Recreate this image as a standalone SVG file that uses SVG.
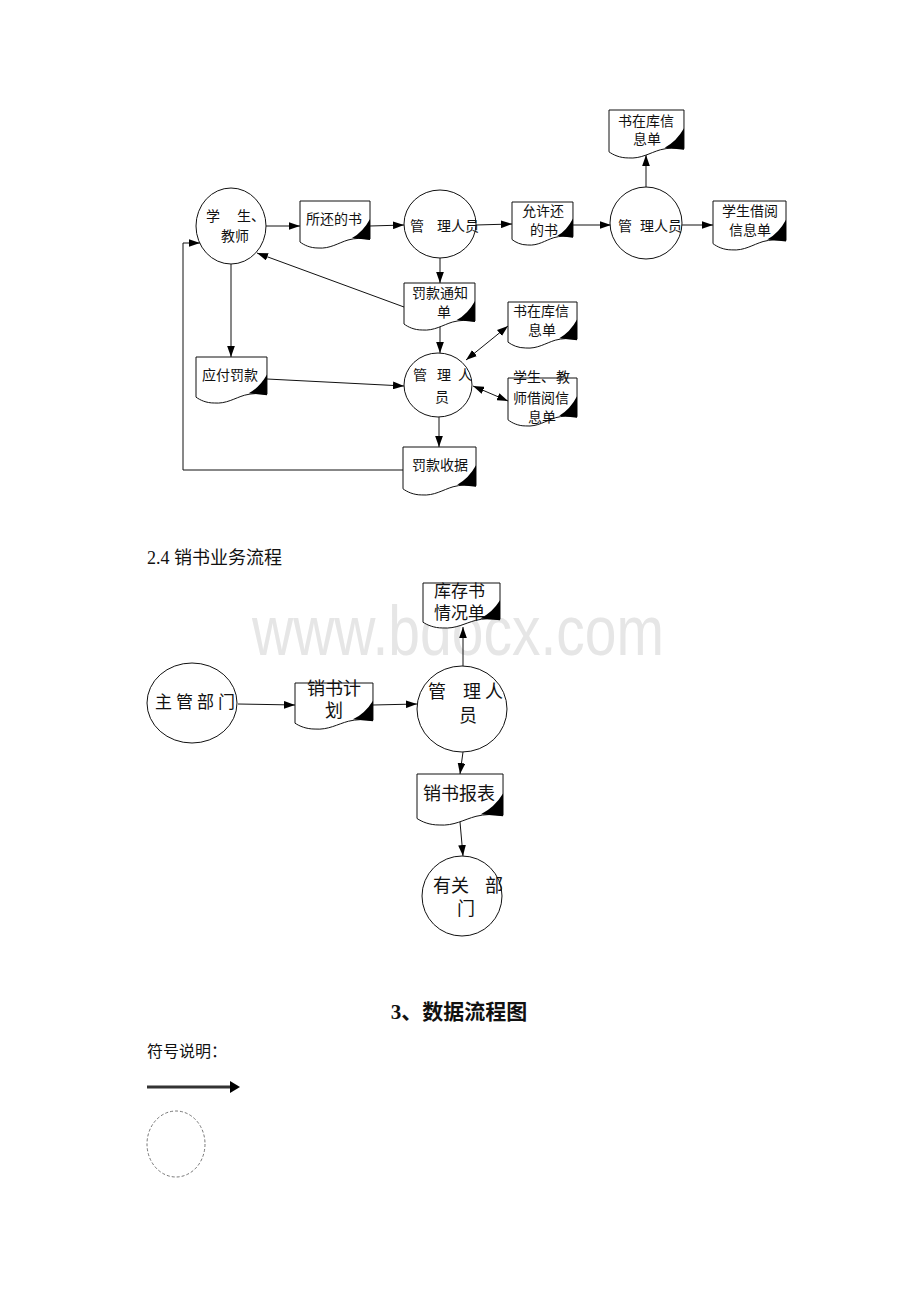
<svg xmlns="http://www.w3.org/2000/svg" xmlns:xlink="http://www.w3.org/1999/xlink" width="920" height="1302" viewBox="0 0 920 1302">
<style>
.t{font-family:"Liberation Serif","Noto Sans CJK SC",serif;font-size:14px;fill:#111}
.m{font-family:"Liberation Serif","Noto Sans CJK SC",serif;font-size:18px;fill:#111}
.nd{fill:#fff;stroke:#111;stroke-width:1}
.ln{fill:none;stroke:#111;stroke-width:1}
.wm{font-family:"Liberation Sans",sans-serif;font-size:70px;fill:#e6e6e6}
</style>
<defs>
<marker id="ah" viewBox="0 0 10 7" refX="10" refY="3.5" markerWidth="11" markerHeight="8" markerUnits="userSpaceOnUse" orient="auto-start-reverse">
<path d="M0,0 L10,3.5 L0,7 Z" fill="#000"/>
</marker>
<g id="doc">
<path d="M0,0 H70 V38 C62,37 55,37 48,39 C38,42 30,48 18,47 C10,47 4,44 0,41 Z" fill="#fff" stroke="#111" stroke-width="1" vector-effect="non-scaling-stroke"/>
<path d="M70,18 V39 L52,37 Q63,31 70,18 Z" fill="#000"/>
</g>
</defs>
<rect width="920" height="1302" fill="#fff"/>
<text class="wm" x="252" y="655" textLength="412" lengthAdjust="spacingAndGlyphs">www.bdocx.com</text>

<g id="connectors">
<path class="ln" d="M266,226 L300,226" marker-end="url(#ah)"/>
<path class="ln" d="M370,226 L404,225" marker-end="url(#ah)"/>
<path class="ln" d="M476,225 L512,224" marker-end="url(#ah)"/>
<path class="ln" d="M573,225 L611,225" marker-end="url(#ah)"/>
<path class="ln" d="M682,225 L713,225" marker-end="url(#ah)"/>
<path class="ln" d="M646,206 L646,155" marker-end="url(#ah)"/>
<path class="ln" d="M440,258 L440,283" marker-end="url(#ah)"/>
<path class="ln" d="M404,307 L257,253" marker-end="url(#ah)"/>
<path class="ln" d="M231,264 L231,357" marker-end="url(#ah)"/>
<path class="ln" d="M440,325 L440,353" marker-end="url(#ah)"/>
<path class="ln" d="M267,379 L404,386" marker-end="url(#ah)"/>
<path class="ln" d="M466,360 L508,326" marker-start="url(#ah)" marker-end="url(#ah)"/>
<path class="ln" d="M473,386 L508,401" marker-start="url(#ah)" marker-end="url(#ah)"/>
<path class="ln" d="M439,417 L439,447" marker-end="url(#ah)"/>
<path class="ln" d="M403,470 H183 V243 H200" stroke="#333" marker-end="url(#ah)"/>
<path class="ln" d="M238,704 L295,705" marker-end="url(#ah)"/>
<path class="ln" d="M373,705 L417,704" marker-end="url(#ah)"/>
<path class="ln" d="M463,666 L463,627" marker-end="url(#ah)"/>
<path class="ln" d="M463,752 L460,774" marker-end="url(#ah)"/>
<path class="ln" d="M460,822 L463,856" marker-end="url(#ah)"/>
</g>

<g id="n-student">
<ellipse class="nd" cx="231" cy="226" rx="35" ry="38"/>
<text class="t" x="206" y="221">学</text>
<text class="t" x="237" y="221">生、</text>
<text class="t" x="221" y="241">教师</text>
</g>
<g id="n-returned-book">
<use href="#doc" transform="translate(300,201) scale(1,1)"/>
<text class="t" x="306" y="224">所还的书</text>
</g>
<g id="n-admin1">
<ellipse class="nd" cx="440" cy="224" rx="36" ry="34"/>
<text class="t" x="410" y="231">管</text>
<text class="t" x="437" y="231">理人员</text>
</g>
<g id="n-allowed">
<use href="#doc" transform="translate(512,202) scale(0.871,0.915)"/>
<text class="t" x="522" y="216">允许还</text>
<text class="t" x="530" y="235">的书</text>
</g>
<g id="n-admin2">
<ellipse class="nd" cx="646" cy="223" rx="36" ry="36"/>
<text class="t" x="618" y="231">管</text>
<text class="t" x="640" y="231">理人员</text>
</g>
<g id="n-stock-top">
<use href="#doc" transform="translate(609,110) scale(1.071,1.02)"/>
<text class="t" x="618" y="126">书在库信</text>
<text class="t" x="633" y="144">息单</text>
</g>
<g id="n-borrow-top">
<use href="#doc" transform="translate(713,201) scale(1.043,1.04)"/>
<text class="t" x="722" y="216">学生借阅</text>
<text class="t" x="729" y="235">信息单</text>
</g>
<g id="n-fine-notice">
<use href="#doc" transform="translate(404,283) scale(1.014,1)"/>
<text class="t" x="412" y="298">罚款通知</text>
<text class="t" x="437" y="317">单</text>
</g>
<g id="n-stock-mid">
<use href="#doc" transform="translate(508,302) scale(0.986,0.979)"/>
<text class="t" x="513" y="316">书在库信</text>
<text class="t" x="528" y="335">息单</text>
</g>
<g id="n-payable">
<use href="#doc" transform="translate(196,357) scale(1.014,0.979)"/>
<text class="t" x="202" y="380">应付罚款</text>
</g>
<g id="n-admin3">
<ellipse class="nd" cx="438" cy="385" rx="34" ry="32"/>
<text class="t" x="413" y="380">管</text>
<text class="t" x="437" y="380">理</text>
<text class="t" x="458" y="380">人</text>
<text class="t" x="435" y="402">员</text>
</g>
<g id="n-borrow-mid">
<use href="#doc" transform="translate(508,378) scale(0.986,1.02)"/>
<text class="t" x="513" y="382">学生、</text>
<text class="t" x="556" y="382">教</text>
<text class="t" x="513" y="403">师借阅信</text>
<text class="t" x="528" y="422">息单</text>
</g>
<g id="n-receipt">
<use href="#doc" transform="translate(403,447) scale(1.043,1.02)"/>
<text class="t" x="412" y="470">罚款收据</text>
</g>

<g id="h-24">
<text class="m" x="147" y="564">2.4 销书业务流程</text>
</g>

<g id="n-dept">
<ellipse class="nd" cx="192" cy="703" rx="45" ry="40"/>
<text class="m" x="155 176 197 218" y="708" style="font-size:17px">主管部门</text>
</g>
<g id="n-plan">
<use href="#doc" transform="translate(295,683) scale(1.114,0.98)"/>
<text class="m" x="307" y="695">销书计</text>
<text class="m" x="325" y="717">划</text>
</g>
<g id="n-admin-mid">
<ellipse class="nd" cx="462" cy="709" rx="45" ry="43"/>
<text class="m" x="428" y="698">管</text>
<text class="m" x="463" y="698">理</text>
<text class="m" x="485" y="698">人</text>
<text class="m" x="459" y="722">员</text>
</g>
<g id="n-inventory">
<use href="#doc" transform="translate(423,583) scale(1.1,0.957)"/>
<text class="m" x="434" y="597" style="font-size:17px">库存书</text>
<text class="m" x="434" y="619" style="font-size:17px">情况单</text>
</g>
<g id="n-report">
<use href="#doc" transform="translate(417,774) scale(1.229,1.085)"/>
<text class="m" x="423" y="800">销书报表</text>
</g>
<g id="n-related">
<ellipse class="nd" cx="462" cy="896" rx="40" ry="40"/>
<text class="m" x="433" y="892">有关</text>
<text class="m" x="485" y="892">部</text>
<text class="m" x="457" y="915">门</text>
</g>

<g id="h-3">
<text x="459" y="1019" text-anchor="middle" style="font-family:'Liberation Serif','Noto Sans CJK SC',serif;font-size:21px;font-weight:bold;fill:#111">3、数据流程图</text>
</g>
<g id="legend">
<text x="147" y="1057" style="font-family:'Liberation Serif','Noto Sans CJK SC',serif;font-size:16px;fill:#111">符号说明：</text>
<line x1="147" y1="1087" x2="231" y2="1087" stroke="#333" stroke-width="3"/>
<polygon points="230,1081 240,1087 230,1093" fill="#000"/>
<ellipse cx="176" cy="1144" rx="29" ry="33" fill="none" stroke="#555" stroke-width="0.8" stroke-dasharray="3 2"/>
</g>
</svg>
